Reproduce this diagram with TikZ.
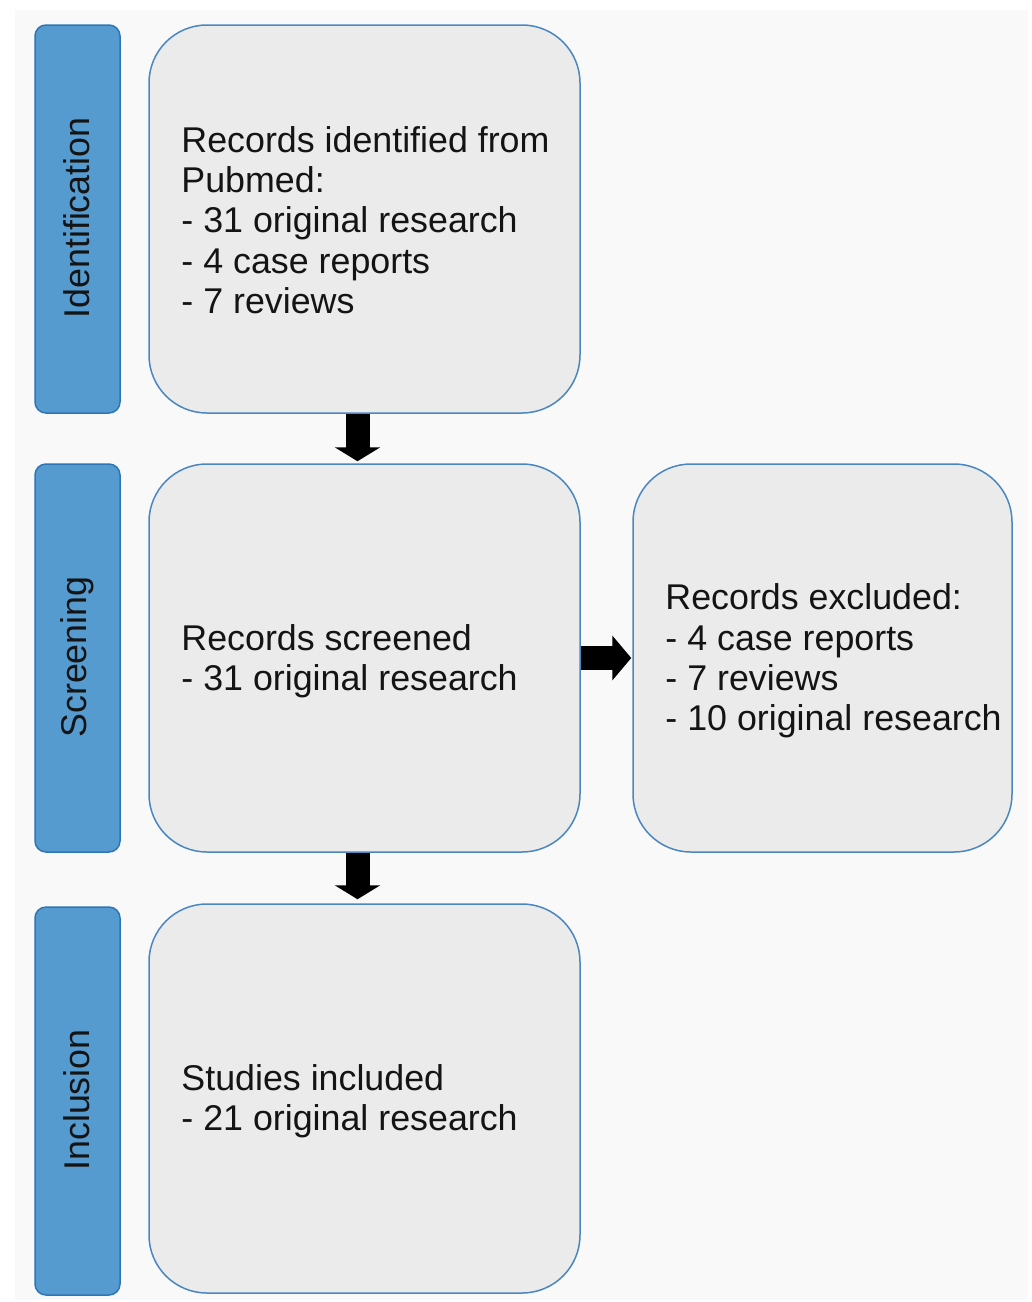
\documentclass[tikz,border=0pt]{standalone}
\usepackage{fontspec}
\setmainfont{Liberation Sans}
\usetikzlibrary{arrows.meta}
\definecolor{bgc}{RGB}{249,249,249}
\definecolor{labfill}{RGB}{86,155,208}
\definecolor{labdraw}{RGB}{46,117,182}
\definecolor{boxfill}{RGB}{235,235,235}
\definecolor{boxdraw}{RGB}{74,134,192}
\definecolor{txt}{RGB}{20,20,20}
\begin{document}
\begin{tikzpicture}[x=1pt,y=-1pt,
  labbox/.style={draw=labdraw,fill=labfill,line width=1.5pt,rounded corners=11pt},
  grbox/.style={draw=boxdraw,fill=boxfill,line width=1.5pt,rounded corners=58pt},
  boxtext/.style={anchor=west,align=left,inner sep=0pt,text=txt,font=\fontsize{35.8}{40.3}\selectfont},
  labtext/.style={rotate=90,inner sep=0pt,text=txt,font=\fontsize{35.8}{40.3}\selectfont},
  bigarrow/.style={draw=black,line width=24pt,-{Triangle[width=45pt,length=14pt]}}
]
\useasboundingbox (0,0) rectangle (1032,1302);
\fill[white] (0,0) rectangle (1032,1302);
\fill[bgc] (15,10) rectangle (1028,1300);

% side labels
\draw[labbox] (35,25) rectangle (120,413);
\draw[labbox] (35,464) rectangle (120,852);
\draw[labbox] (35,907) rectangle (120,1295);
\node[labtext] (lid) at (77,218) {Identification};
\node[labtext] (lsc) at (77,657) {Screening};
\node[labtext] (lin) at (77,1100) {Inclusion};

% boxes
\node[grbox,minimum width=431pt,minimum height=388pt,inner sep=0pt] (b1) at (364.5,219) {};
\node[grbox,minimum width=431pt,minimum height=388pt,inner sep=0pt] (b2) at (364.5,658) {};
\node[grbox,minimum width=431pt,minimum height=389pt,inner sep=0pt] (b3) at (364.5,1098.5) {};
\node[grbox,minimum width=379pt,minimum height=388pt,inner sep=0pt] (b4) at (822.5,658) {};

\node[boxtext] (t1) at ([xshift=33pt,yshift=-1pt]b1.west) {Records identified from\\Pubmed:\\- 31 original research\\- 4 case reports\\- 7 reviews};
\node[boxtext] (t2) at ([xshift=33pt,yshift=-3pt]b2.west) {Records screened\\- 31 original research};
\node[boxtext] (t3) at ([xshift=33pt,yshift=-3pt]b3.west) {Studies included\\- 21 original research};
\node[boxtext] (t4) at ([xshift=33pt,yshift=-3pt]b4.west) {Records excluded:\\- 4 case reports\\- 7 reviews\\- 10 original research};

% arrows
\draw[bigarrow] ([xshift=-7pt]b1.south) -- ([xshift=-7pt,yshift=2pt]b2.north);
\draw[bigarrow] ([xshift=-7pt]b2.south) -- ([xshift=-7pt,yshift=4pt]b3.north);
\draw[bigarrow,-{Triangle[width=44pt,length=19pt]}] (b2.east) -- ([xshift=-1pt]b4.west);
\end{tikzpicture}
\end{document}
